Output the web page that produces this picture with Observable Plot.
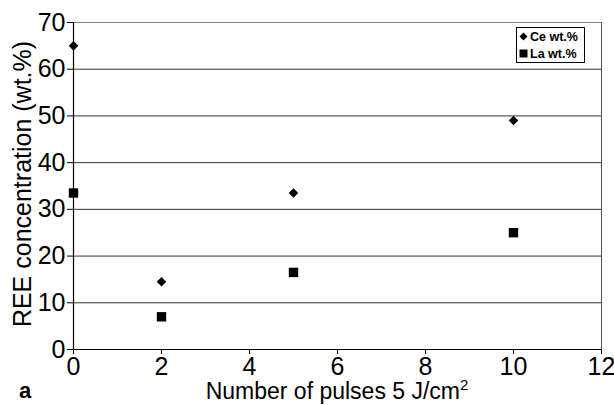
<!DOCTYPE html>
<html>
<head>
<meta charset="utf-8">
<script src="https://cdn.jsdelivr.net/npm/d3@7"></script>
<script src="https://cdn.jsdelivr.net/npm/@observablehq/plot@0.6"></script>
<style>
  body { margin: 0; background: white; }
  #wrap { position: relative; width: 614px; height: 405px; font-family: "Liberation Sans", Arial, sans-serif; }
  #legend { position: absolute; left: 516px; top: 27px; width: 65px; height: 34px; border: 1.5px solid black; background: white; font-weight: bold; font-size: 12.5px; padding-left: 2px; box-sizing: content-box; }
  #legend .row { display: flex; align-items: center; height: 17px; white-space: nowrap; }
  #legend svg { margin-right: 2px; }
</style>
</head>
<body>
<div id="wrap">
  <div id="chart"></div>
  <div id="legend">
    <div class="row"><svg width="9" height="9" viewBox="-4.5 -4.5 9 9"><path d="M0,-4L4,0L0,4L-4,0Z" fill="black"/></svg>Ce wt.%</div>
    <div class="row"><svg width="9" height="9" viewBox="-4.5 -4.5 9 9"><rect x="-4" y="-4" width="8" height="8" fill="black"/></svg>La wt.%</div>
  </div>
</div>
<script>
const pulses = [0, 2, 5, 10];
const ceValues = [65, 14.5, 33.5, 49];
const laValues = [33.5, 7, 16.5, 25];
const yTicks = [0, 10, 20, 30, 40, 50, 60, 70];
const xTicks = [0, 2, 4, 6, 8, 10, 12];

const ceData = pulses.map((p, i) => ({ x: p, y: ceValues[i] }));
const laData = pulses.map((p, i) => ({ x: p, y: laValues[i] }));

const tickFont = "'Liberation Sans Narrow', 'Liberation Sans', Arial, sans-serif";

const chart = Plot.plot({
  width: 614,
  height: 405,
  marginLeft: 73,
  marginRight: 13,
  marginTop: 22,
  marginBottom: 56,
  x: { domain: [0, 12] },
  y: { domain: [0, 70] },
  style: { fontFamily: "'Liberation Sans', Arial, sans-serif", background: "white", color: "black" },
  marks: [
    Plot.ruleY(yTicks.slice(1, -1), { stroke: "#333", strokeWidth: 1 }),
    Plot.ruleY([70], { stroke: "#888", strokeWidth: 1 }),
    Plot.ruleX([12], { stroke: "#555", strokeWidth: 1 }),
    Plot.axisY({ ticks: yTicks, tickSize: 6, tickPadding: 2, fontSize: 25, fontFamily: tickFont, label: null }),
    Plot.axisX({ ticks: xTicks, tickSize: 5, tickPadding: 3, fontSize: 25, fontFamily: tickFont, label: null }),
    Plot.ruleX([0], { stroke: "black", strokeWidth: 1.2 }),
    Plot.ruleY([0], { stroke: "black", strokeWidth: 1.2 }),
    Plot.dot(ceData, { x: "x", y: "y", symbol: "diamond2", fill: "black", stroke: "none", r: 4.3 }),
    Plot.dot(laData, { x: "x", y: "y", symbol: "square", fill: "black", stroke: "none", r: 5.3 })
  ]
});
document.getElementById("chart").appendChild(chart);

const svg = d3.select(chart);
// y-axis title
svg.append("text")
  .attr("transform", "translate(31,184) rotate(-90)")
  .attr("text-anchor", "middle")
  .attr("font-size", 25)
  .attr("fill", "black")
  .text("REE concentration (wt.%)");
// x-axis title with superscript
const t = svg.append("text")
  .attr("x", 337)
  .attr("y", 399)
  .attr("text-anchor", "middle")
  .attr("font-size", 23)
  .attr("fill", "black");
t.append("tspan").text("Number of pulses 5 J/cm");
t.append("tspan").attr("font-size", 15).attr("dy", -9).text("2");
// panel tag
svg.append("text")
  .attr("x", 25)
  .attr("y", 398)
  .attr("font-size", 22)
  .attr("font-weight", "bold")
  .attr("fill", "black")
  .text("a");
</script>
</body>
</html>
